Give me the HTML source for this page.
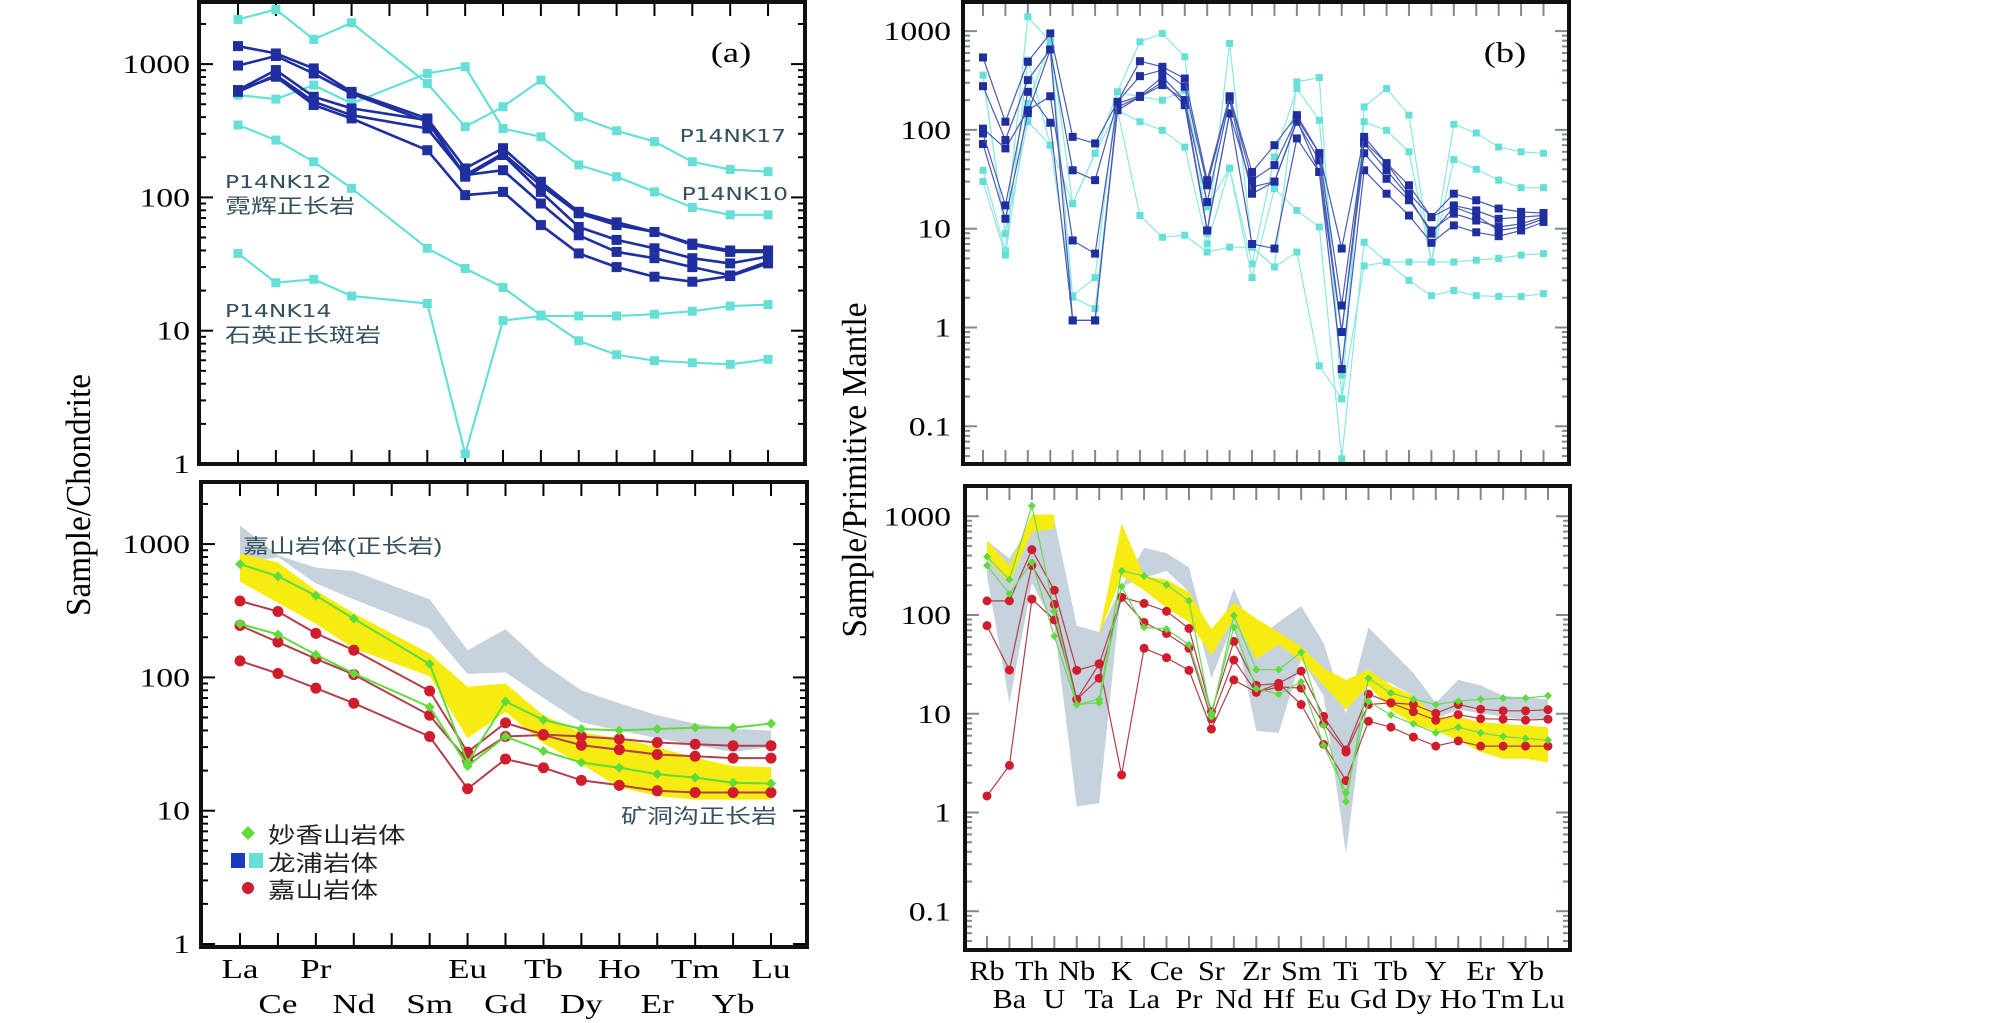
<!DOCTYPE html>
<html><head><meta charset="utf-8"><style>
html,body{margin:0;padding:0;background:#fff;}
svg{display:block;}
</style></head><body>
<svg id="fig" xmlns="http://www.w3.org/2000/svg" width="2008" height="1023" viewBox="0 0 2008 1023">
<rect x="0" y="0" width="2008" height="1023" fill="#fff"/>
</svg>
<script>
// ---------- categories ----------
const reeLabels = ['La','Ce','Pr','Nd','Pm','Sm','Eu','Gd','Tb','Dy','Ho','Er','Tm','Yb','Lu'];
const reeSlots = [0,1,2,3,5,6,7,8,9,10,11,12,13,14];
const pmLabels = ['Rb','Ba','Th','U','Nb','Ta','K','La','Ce','Pr','Sr','Nd','Zr','Hf','Sm','Eu','Ti','Gd','Tb','Dy','Y','Ho','Er','Tm','Yb','Lu'];
const yTicksA = [1,10,100,1000];
const yTickLabelsA = ['1','10','100','1000'];
const yTicksB = [0.1,1,10,100,1000];
const yTickLabelsB = ['0.1','1','10','100','1000'];

// ---------- panel (a) top ----------
const aBlue1 = [1365,1202,928,619,391,165,234,131,78,65,55,45,40,40];
const aBlue2 = [975,1150,850,600,370,147,214,123,76,62,55,44,39,39];
const aBlue3 = [638,902,569,465,380,143,208,110,60,48,41.5,35,32,36];
const aBlue4 = [619,827,522,414,329,147,160,90,52,39,35,30,26,33];
const aBlue5 = [638,804,493,391,226,104,110,62,38,30,25.4,23.3,25.7,32];
const aCyan1 = [2163,2570,1531,2042,716,339,479,759,403,316,262,185,162,156];
const aCyan2 = [586,546,696,507,851,955,329,285,175,143,110,84,74,74];
const aCyan3 = [349,269,185,117,41.5,29.3,21.1,13.1,8.4,6.6,5.96,5.75,5.6,6.1];
const aCyan4 = [38,22.9,24.3,18.2,16,1.19,11.9,12.9,12.9,12.9,13.3,14,15.3,15.7];

// ---------- panel (a) bottom ----------
const aGrayUpper = [1380,824,666,627,385,160,230,126,80,64,52,45,41,40];
const aGrayLower = [708,800,507,385,230,106,109,70,46,40,35,31,27.5,30];
const aYellowUpper = [849,730,449,303,151,85,90,52,38.5,35,30,25,21.6,21.2];
const aYellowLower = [522,363,252,165,102,35,55,32,22.3,15,12.9,12.1,12.1,12.1];
const aGreen1 = [708,573,410,276,126,23,66,48,41,40,41,42,42,45];
const aGreen2 = [252,210,148,107,60,21.6,36,28,23,21,18.8,17.7,16.2,16];
const aRed1 = [374,312,214,160,79,27.5,45.6,37.3,36,34.5,32.5,31.5,30.7,30.7];
const aRed2 = [245,184,138,105,52,23.7,36,37,31,28.7,26.4,25.6,24.8,24.8];
const aRed3 = [133,107,83,64,36,14.6,24.4,21,16.9,15.5,14.1,13.7,13.7,13.7];

// ---------- panel (b) top ----------
const bBlue1 = [541,121,489,947,85,73,192,496,435,331,31,219,37.5,70,141,58,6.3,85,46,27.5,13.1,22.6,19.4,16,14.8,14.4];
const bBlue2 = [277,79,319,652,39,31,192,350,403,273,27.5,216,31,44,130,58,1.67,76,46,22.6,13.1,17.2,15.3,12.6,13.1,13.6];
const bBlue3 = [103,65,158,219,7.6,5.6,185,221,345,200,18.6,200,22.6,30,121,49,0.9,58,32,19.4,9.6,14.2,12.1,10.4,11.2,13.1];
const bBlue4 = [92,17.2,243,118,1.18,1.18,171,216,306,178,9.6,147,7.0,6.3,82,37.5,0.38,39,22.6,13.6,7.2,10.8,9.2,8.4,9.6,11.7];
const bBlue5 = [72,12.6,147,652,1.18,1.18,158,216,284,200,9.6,147,26.4,30,125,37.5,0.9,73,39,21,8.9,16.6,13.6,9.6,10.4,12.6];
const bCyan1 = [358,8.9,1397,780,17.9,58,243,780,947,550,8.9,750,6.5,4.1,306,339,0.19,171,262,141,4.6,114,93,67,60,58];
const bCyan2 = [39,6.0,509,70,2.1,3.2,243,216,200,252,16.6,41,4.4,53,262,125,0.33,121,99,60,4.6,50,40,31,26,26];
const bCyan3 = [30,5.4,185,780,2.03,1.55,158,121,99,67,7.0,41,3.2,25.4,15.3,10.4,0.047,7.3,4.6,3.0,2.1,2.37,2.1,2.06,2.06,2.2];
const bCyan4 = [358,8.9,121,70,17.9,58,158,13.6,8.2,8.6,5.8,6.5,6.5,4.1,5.8,0.41,0.19,4.2,4.6,4.6,4.6,4.6,4.8,5.0,5.4,5.6];

// ---------- panel (b) bottom ----------
const bGrayUpper = [563,373,849,921,78,67,194,478,423,304,41,186,56,85,123,52,10.1,75,44,25.9,12.9,22,19.4,15.2,14.6,14];
const bGrayLower = [248,12.9,210,78,1.15,1.24,194,238,280,171,22.9,85,6.7,6.4,36,15.2,0.38,24.9,20.3,15.2,8.9,11,10.1,9.3,8.6,8.6];
const bYellowUpper = [563,317,1042,1042,null,67,849,248,228,171,72,134,92,67,48,29,22,28,19.4,15.2,9.3,9.3,8.2,7.9,7.6,7.3];
const bYellowLower = [373,210,692,750,null,64,248,178,118,85,39,92,36,50,34.5,19.4,11,19.4,11,7.9,6.7,5.4,4.1,3.5,3.5,3.2];
const bGreen1 = [389,228,1279,109,12.4,14,280,248,202,139,9.3,99,28,28,42,7.6,1.29,22.9,16.2,14,12.4,13.4,14,14.4,14.4,15.2];
const bGreen2 = [317,164,344,61,12.4,12.9,194,75,72,50,10.1,75,17.9,15.8,21.1,4.8,1.59,13.4,9.7,7.9,6.4,7.3,6.4,5.9,5.6,5.4];
const bRed1 = [139,139,459,178,27.5,32,151,131,109,73,10.5,54,19.4,20.3,27,9.4,4.3,15.8,12.9,12.4,10.1,12.4,11.1,10.7,10.7,11];
const bRed2 = [78,27.7,317,128,14,22.9,151,84,65,46,8.9,35,16.5,18.7,18.2,7.9,4.1,12.4,12.9,10.5,8.6,9.8,8.9,8.8,8.6,8.8];
const bRed3 = [1.47,3.0,145,89,14,32,2.4,46,37,27.5,7.0,22,16.5,20.3,12.4,4.9,2.1,8.4,7.3,5.8,4.7,5.3,4.7,4.7,4.7,4.7];

// ---------- drawing ----------
const NS='http://www.w3.org/2000/svg';
const svg=document.getElementById('fig');
function mk(tag,attrs,parent){const e=document.createElementNS(NS,tag);for(const k in attrs)e.setAttribute(k,attrs[k]);(parent||svg).appendChild(e);return e;}
function txt(str,x,y,size,anchor,family,fill,sx,parent){
  const g=mk('g',{transform:`translate(${x},${y}) scale(${sx||1.3},1)`},parent);
  const t=mk('text',{x:0,y:0,'font-size':size,'text-anchor':anchor||'start','font-family':family||'"Liberation Serif", serif',fill:fill||'#000'},g);
  t.textContent=str;return t;
}
function makeAxes(P){
  P.X=i=>P.x0+i*P.dx;
  P.Y=v=>P.y0-P.k*Math.log10(v);
  return P;
}
const A1=makeAxes({l:199,r:805,t:2,b:464,x0:238,dx:37.86,y0:464,k:133.3,n:15,tc:'#000'});
const A2=makeAxes({l:201,r:807,t:482,b:947,x0:240,dx:37.93,y0:944,k:133.3,n:15,tc:'#000'});
const B1=makeAxes({l:963,r:1569,t:2,b:464,x0:983,dx:22.42,y0:327.5,k:98.8,n:26,tc:'#7d8a96'});
const B2=makeAxes({l:965,r:1570,t:486,b:950,x0:987,dx:22.44,y0:812.5,k:98.75,n:26,tc:'#7d8a96'});

function frame(P,name,ticks,tickLabels,labelX){
  const g=mk('g',{});
  
  
  for(let i=0;i<P.n;i++){const x=P.X(i);
    mk('line',{x1:x,x2:x,y1:P.t,y2:P.t+14,stroke:P.tc,'stroke-width':2},g);
    mk('line',{x1:x,x2:x,y1:P.b,y2:P.b-14,stroke:P.tc,'stroke-width':2},g);}
  for(let d=-3;d<5;d++){for(let m=1;m<10;m++){const v=m*Math.pow(10,d);const y=P.Y(v);
    if(y<P.t+2||y>P.b-2)continue;const L=m===1?14:7;
    mk('line',{x1:P.l,x2:P.l+L,y1:y,y2:y,stroke:P.tc,'stroke-width':2},g);
    mk('line',{x1:P.r,x2:P.r-L,y1:y,y2:y,stroke:P.tc,'stroke-width':2},g);}}
  ticks.forEach((v,i)=>{const t=txt(tickLabels[i],labelX,P.Y(v)+9,26,'end');
    });
  return g;
}
function border(P,name){const r=mk('rect',{x:P.l,y:P.t,width:P.r-P.l,height:P.b-P.t,fill:'none',stroke:'#111','stroke-width':4});
  }
function idxOf(P,slots,i){return slots?slots[i]:i;}
function band(P,upper,lower,slots,fill,name){
  let segs=[],cur=[];
  upper.forEach((u,i)=>{if(u==null||lower[i]==null){if(cur.length)segs.push(cur);cur=[];}else cur.push(i);});
  if(cur.length)segs.push(cur);
  segs.forEach(s=>{
    const pts=s.map(i=>P.X(idxOf(P,slots,i))+','+P.Y(upper[i])).concat(s.slice().reverse().map(i=>P.X(idxOf(P,slots,i))+','+P.Y(lower[i])));
    const p=mk('polygon',{points:pts.join(' '),fill:fill});
    });
}
function series(P,vals,slots,color,lw,marker,mcolor,ms,name){
  const g=mk('g',{});
  
  
  const d=vals.map((v,i)=>(i?'L':'M')+P.X(idxOf(P,slots,i)).toFixed(1)+','+P.Y(v).toFixed(1)).join(' ');
  mk('path',{d:d,fill:'none',stroke:color,'stroke-width':lw,'stroke-linejoin':'round'},g);
  vals.forEach((v,i)=>{const x=P.X(idxOf(P,slots,i)),y=P.Y(v);let m;
    if(marker==='sq')m=mk('rect',{x:x-ms/2,y:y-ms/2,width:ms,height:ms,fill:mcolor},g);
    else if(marker==='di')m=mk('polygon',{points:`${x},${y-ms/2} ${x+ms/2},${y} ${x},${y+ms/2} ${x-ms/2},${y}`,fill:mcolor},g);
    else m=mk('circle',{cx:x,cy:y,r:ms/2,fill:mcolor},g);
    
    });
}
const DB='#1f2f9f', CY='#66e0d6', GR='#5fdc3c', RD='#d01c2c', RDL='#b0404a';

frame(A1,'panel-a-top',yTicksA,yTickLabelsA,190);
[aCyan1,aCyan2,aCyan3,aCyan4].forEach((s,i)=>series(A1,s,reeSlots,CY,2.2,'sq',CY,9,'longpu-cyan-'+(i+1)));
[aBlue5,aBlue4,aBlue3,aBlue2,aBlue1].forEach((s,i)=>series(A1,s,reeSlots,DB,2.6,'sq',DB,10,'longpu-blue-'+(5-i)));
border(A1,'panel-a-top');

frame(A2,'panel-a-bottom',yTicksA,yTickLabelsA,190);
band(A2,aGrayUpper,aGrayLower,reeSlots,'#c6d3dd','jiashan-range-band');
band(A2,aYellowUpper,aYellowLower,reeSlots,'#f7ec12','kuangdonggou-range-band');
[aRed1,aRed2,aRed3].forEach((s,i)=>series(A2,s,reeSlots,RDL,2,'ci',RD,11,'jiashan-red-'+(i+1)));
[aGreen1,aGreen2].forEach((s,i)=>series(A2,s,reeSlots,GR,2,'di',GR,10,'miaoxiangshan-green-'+(i+1)));
border(A2,'panel-a-bottom');

frame(B1,'panel-b-top',yTicksB,yTickLabelsB,951);
[bCyan1,bCyan2,bCyan3,bCyan4].forEach((s,i)=>series(B1,s,null,'#8de8e0',1.2,'sq',CY,7,'longpu-cyan-b-'+(i+1)));
[bBlue5,bBlue4,bBlue3,bBlue2,bBlue1].forEach((s,i)=>series(B1,s,null,'#4a5bb5',1.2,'sq',DB,8,'longpu-blue-b-'+(5-i)));
border(B1,'panel-b-top');

frame(B2,'panel-b-bottom',yTicksB,yTickLabelsB,951);
band(B2,bGrayUpper,bGrayLower,null,'#c6d3dd','jiashan-range-band-b');
band(B2,bYellowUpper,bYellowLower,null,'#f7ec12','kuangdonggou-range-band-b');
[bRed1,bRed2,bRed3].forEach((s,i)=>series(B2,s,null,RDL,1.2,'ci',RD,9,'jiashan-red-b-'+(i+1)));
[bGreen1,bGreen2].forEach((s,i)=>series(B2,s,null,'#6bd85a',1.2,'di',GR,8,'miaoxiangshan-green-b-'+(i+1)));
border(B2,'panel-b-bottom');

reeLabels.forEach((l,i)=>{if(l==='Pm')return;const row=(i%2===0)?0:1;
  const t=txt(l,A2.X(i),row?1013:978,27,'middle');
  });
pmLabels.forEach((l,i)=>{const row=i%2;
  const t=txt(l,B2.X(i),row?1008:980,27,'middle',null,null,1.12);
  });

(function(){
  const g1=mk('g',{transform:'translate(90,495) scale(1.3,1) rotate(-90)'});
  const t1=mk('text',{x:0,y:0,'font-size':27,'text-anchor':'middle','font-family':'"Liberation Serif", serif',textLength:242,lengthAdjust:'spacingAndGlyphs'},g1);
  t1.textContent='Sample/Chondrite';
  
  const g2=mk('g',{transform:'translate(866,470) scale(1.3,1) rotate(-90)'});
  const t2=mk('text',{x:0,y:0,'font-size':27,'text-anchor':'middle','font-family':'"Liberation Serif", serif',textLength:335,lengthAdjust:'spacingAndGlyphs'},g2);
  t2.textContent='Sample/Primitive Mantle';
  
})();

const SANS='"DejaVu Sans","Noto Sans CJK SC",sans-serif', CJ='"Liberation Sans","Noto Sans CJK SC",sans-serif', AC='#34505e';
let t;
t=txt('(a)',731,62,28,'middle');
t=txt('(b)',1505,62,28,'middle');
t=txt('P14NK17',786,142,18,'end',SANS,AC);
t=txt('P14NK10',788,200,18,'end',SANS,AC);
t=txt('P14NK12',225,188,18,'start',SANS,AC);
t=txt('霓辉正长岩',225,213,20,'start',CJ,AC);
t=txt('P14NK14',225,317,18,'start',SANS,AC);
t=txt('石英正长斑岩',225,342,20,'start',CJ,AC);
t=txt('嘉山岩体(正长岩)',243,553,20,'start',CJ,AC);
t=txt('矿洞沟正长岩',777,823,20,'end',CJ,AC);

(function(){
  const g=mk('g',{});
  
  
  mk('polygon',{points:'248,826 255,833 248,840 241,833',fill:GR},g);
  mk('rect',{x:231,y:853,width:14,height:15,fill:'#1a3bbf'},g);
  mk('rect',{x:249,y:853,width:14,height:15,fill:CY},g);
  mk('circle',{cx:248,cy:888,r:6,fill:RD},g);
  let e=txt('妙香山岩体',268,843,22,'start',CJ,'#222',1.25,g);
  e=txt('龙浦岩体',268,871,22,'start',CJ,'#222',1.25,g);
  e=txt('嘉山岩体',268,898,22,'start',CJ,'#222',1.25,g);
})();
</script>
</body></html>
